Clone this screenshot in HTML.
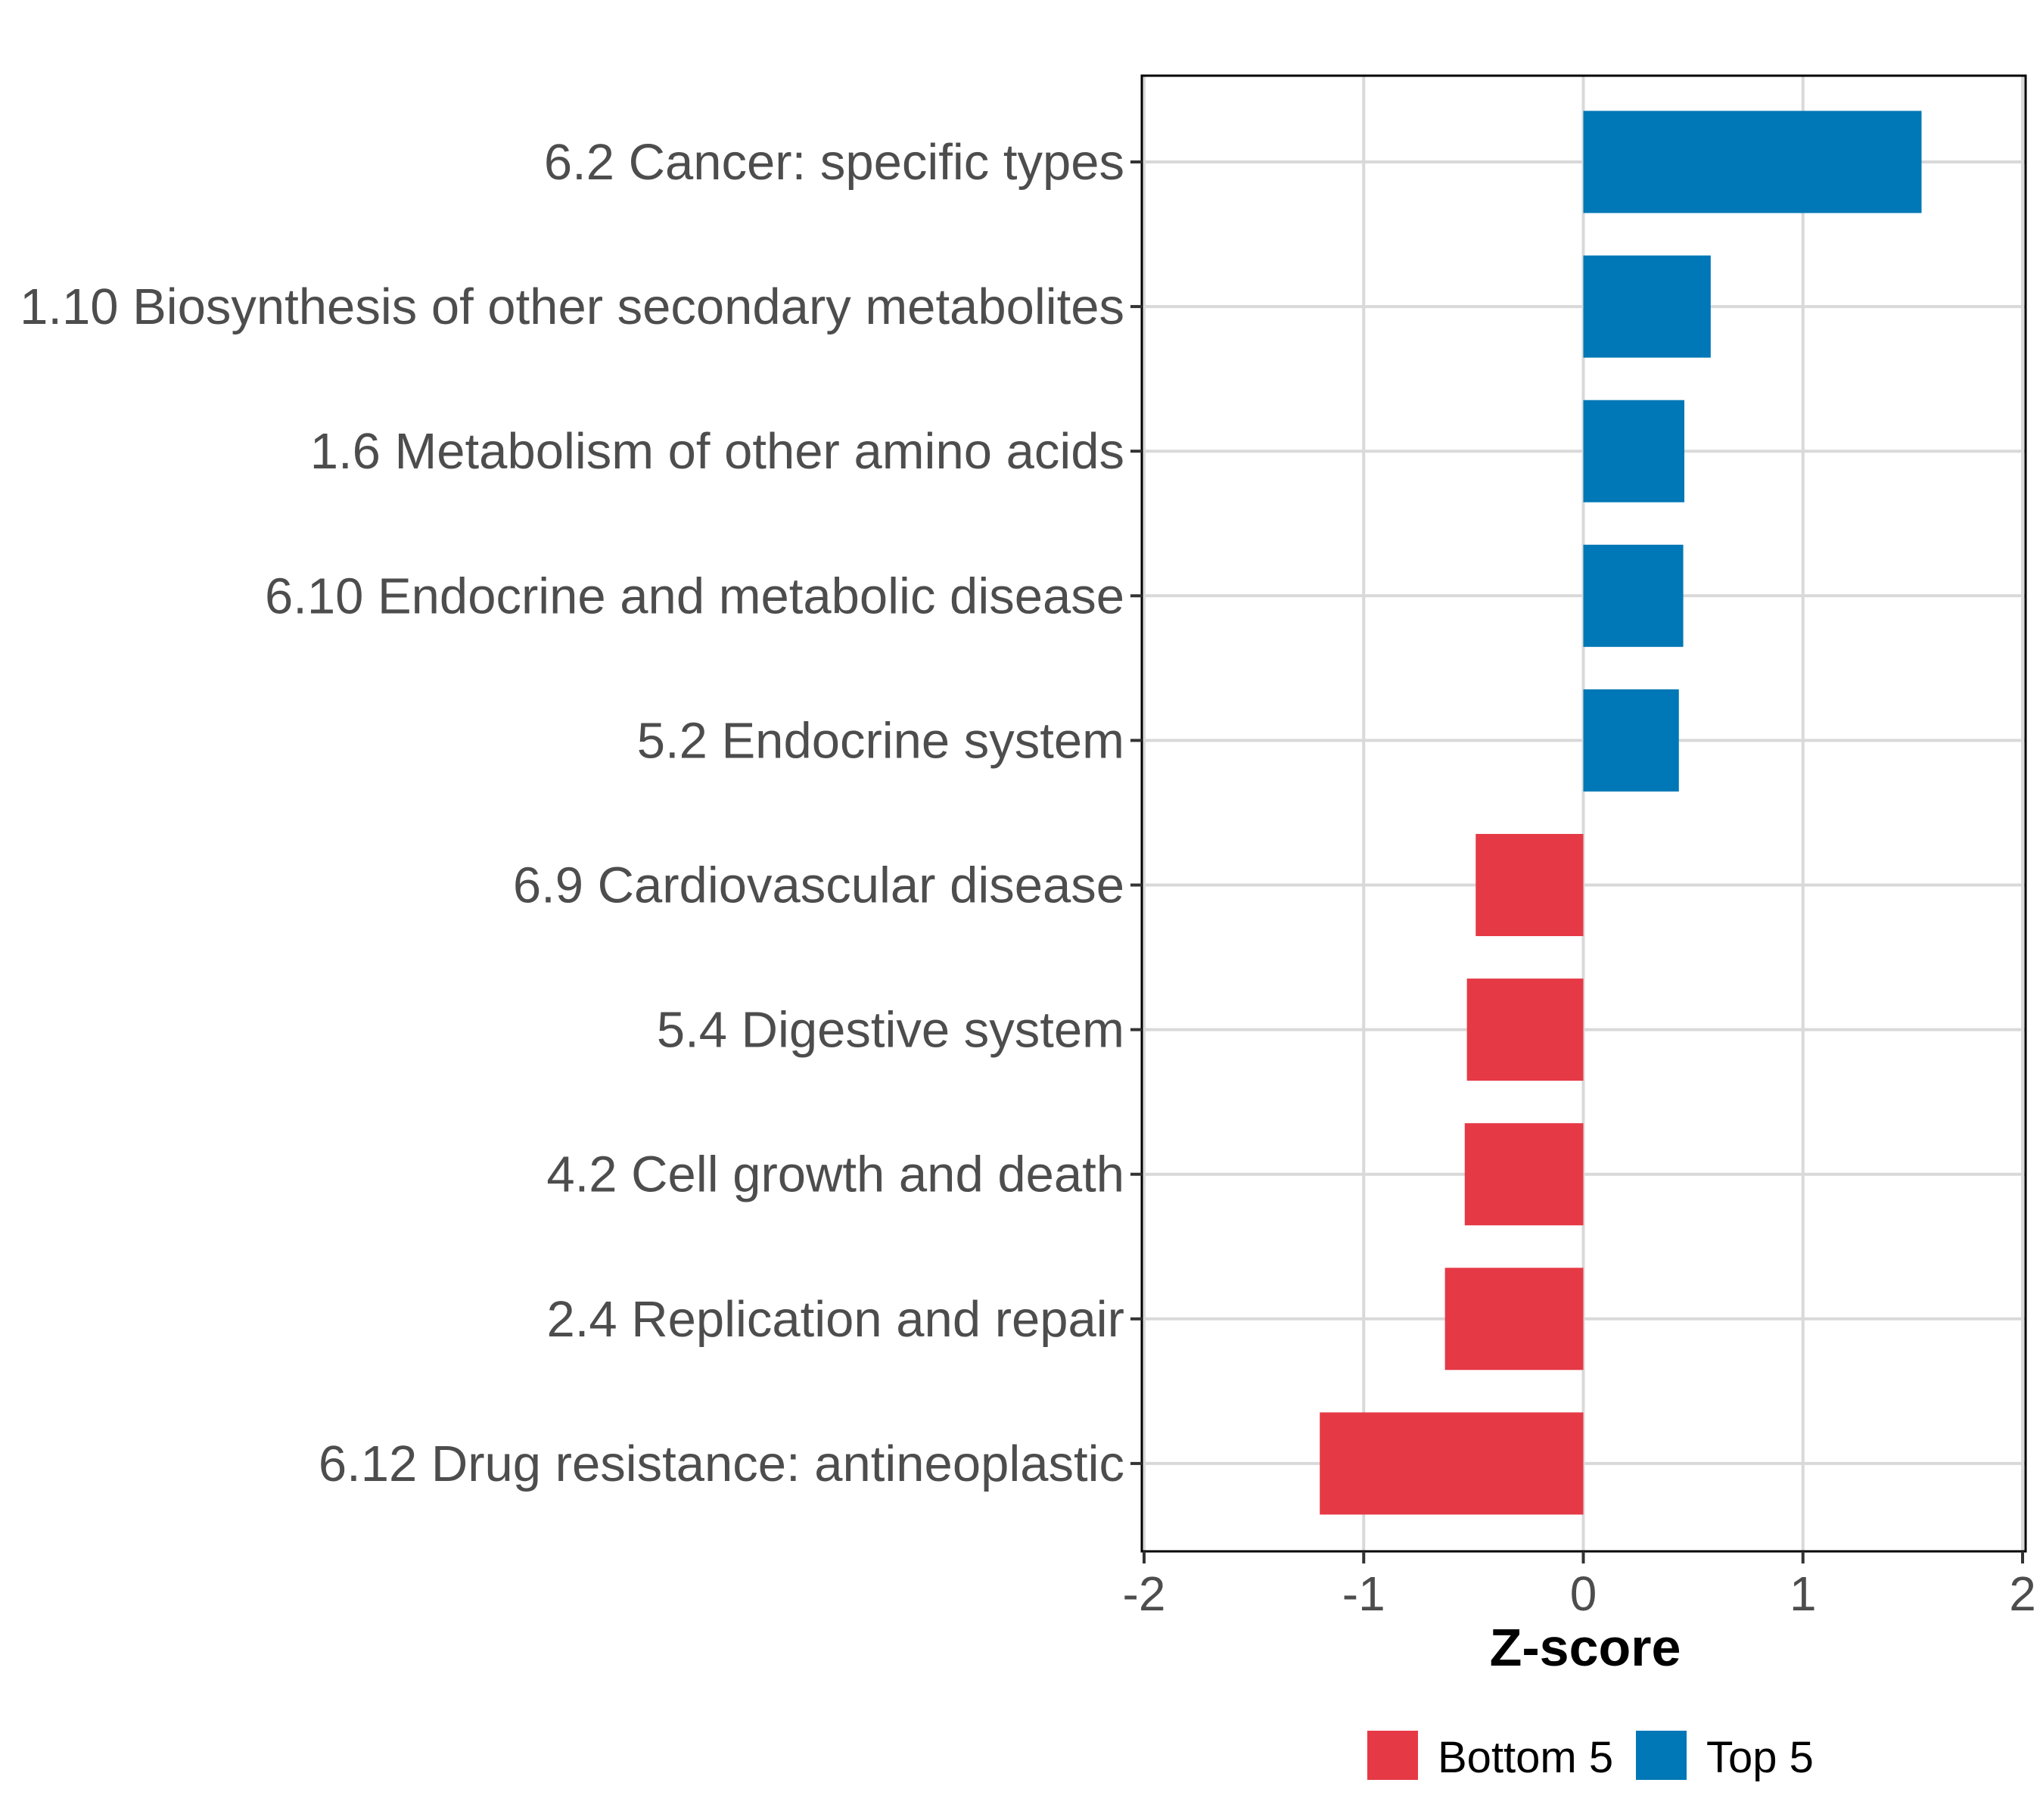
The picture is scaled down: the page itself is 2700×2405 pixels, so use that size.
<!DOCTYPE html>
<html><head><meta charset="utf-8"><style>
html,body{margin:0;padding:0;background:#fff;}
svg text{font-family:"Liberation Sans",sans-serif;}
</style></head><body>
<svg id="chart" width="2700" height="2400" viewBox="0 0 2700 2400" xmlns="http://www.w3.org/2000/svg">
<g id="grid"></g>
<g id="bars"></g>
<rect x="1509" y="100" width="1168" height="1950" fill="none" stroke="#000" stroke-width="3"/>
<g id="yaxis"></g>
<g id="xaxis"></g>
<text x="2095" y="2201" text-anchor="middle" font-size="70" font-weight="bold" fill="#000">Z-score</text>
<g>
<rect x="1807" y="2287" width="67" height="65" fill="#E63946"/>
<text x="1900" y="2342" font-size="58" fill="#000">Bottom 5</text>
<rect x="2162" y="2287" width="67" height="65" fill="#0077B6"/>
<text x="2255" y="2342" font-size="58" fill="#000">Top 5</text>
</g>
</svg>
<script>
const categories = ["6.2 Cancer: specific types","1.10 Biosynthesis of other secondary metabolites","1.6 Metabolism of other amino acids","6.10 Endocrine and metabolic disease","5.2 Endocrine system","6.9 Cardiovascular disease","5.4 Digestive system","4.2 Cell growth and death","2.4 Replication and repair","6.12 Drug resistance: antineoplastic"];
const values = [1.54, 0.58, 0.46, 0.455, 0.435, -0.49, -0.53, -0.54, -0.63, -1.20];
const groups = ["Top 5","Top 5","Top 5","Top 5","Top 5","Bottom 5","Bottom 5","Bottom 5","Bottom 5","Bottom 5"];
const xTicks = [-2, -1, 0, 1, 2];
const xTickLabels = ["-2","-1","0","1","2"];

const NS = "http://www.w3.org/2000/svg";
const X0 = 1512, X1 = 2673, XMIN = -2, XMAX = 2;
function xs(v){ return X0 + (v - XMIN) / (XMAX - XMIN) * (X1 - X0); }
const ROW0 = 214, ROWSTEP = 191.1, BARH = 135;
function ys(i){ return ROW0 + i * ROWSTEP; }
const colors = {"Top 5":"#0077B6","Bottom 5":"#E63946"};
function mk(tag, attrs, parent){ const e=document.createElementNS(NS,tag); for(const k in attrs) e.setAttribute(k,attrs[k]); parent.appendChild(e); return e; }
const grid=document.getElementById('grid'), bars=document.getElementById('bars'), yax=document.getElementById('yaxis'), xax=document.getElementById('xaxis');
xTicks.forEach((t,i)=>{
  const g = mk('line',{x1:xs(t),x2:xs(t),y1:100,y2:2050,stroke:'#d9d9d9','stroke-width':4},grid);
  
  
  const tk = mk('line',{x1:xs(t),x2:xs(t),y1:2050,y2:2066,stroke:'#333','stroke-width':4},xax);
  
  
  const tl = mk('text',{x:xs(t),y:2128,'text-anchor':'middle','font-size':64,fill:'#4d4d4d'},xax);
  tl.textContent = xTickLabels[i];
  
  
});
categories.forEach((c,i)=>{
  const y = ys(i);
  const g = mk('line',{x1:1509,x2:2677,y1:y,y2:y,stroke:'#d9d9d9','stroke-width':4},grid);
  
  
  const v = values[i];
  const b = mk('rect',{x:Math.min(xs(0),xs(v)),y:y-BARH/2,width:Math.abs(xs(v)-xs(0)),height:BARH,fill:colors[groups[i]]},bars);
  
  
  const tk = mk('line',{x1:1494,x2:1509,y1:y,y2:y,stroke:'#333','stroke-width':4},yax);
  
  
  const tl = mk('text',{x:1486,y:y+23,'text-anchor':'end','font-size':67,fill:'#4d4d4d'},yax);
  tl.textContent = c;
  
  
});
</script>
</body></html>
